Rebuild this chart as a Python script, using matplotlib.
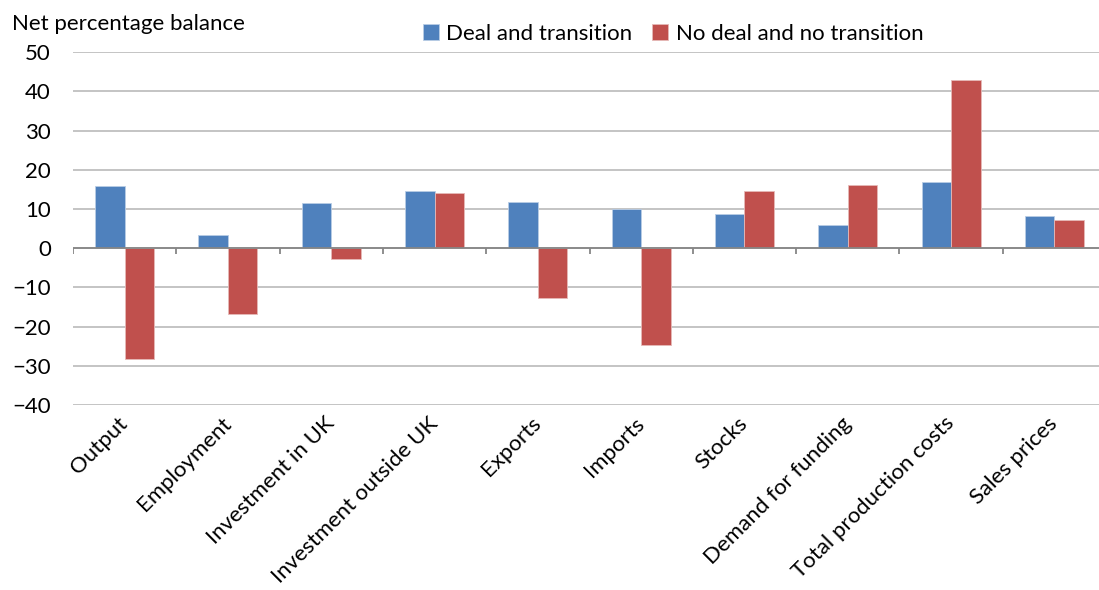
import numpy as np
import matplotlib.pyplot as plt

categories = ["Output", "Employment", "Investment in UK", "Investment outside UK",
              "Exports", "Imports", "Stocks", "Demand for funding",
              "Total production costs", "Sales prices"]
deal = [15.8, 3.4, 11.6, 14.5, 11.7, 10.0, 8.8, 6.0, 16.8, 8.3]
no_deal = [-28.3, -16.8, -2.7, 14.2, -12.6, -24.8, 14.6, 16.1, 42.9, 7.1]

yticks = np.arange(-40, 51, 10)

plt.rcParams['font.family'] = ['Lato', 'DejaVu Sans']
fs = 16

fig = plt.figure(figsize=(10.99, 5.9), dpi=100)
ax = fig.add_axes([0.0664, 0.3136, 0.940, 0.5978])

x = np.arange(len(categories))
w = 0.285
ax.bar(x - w / 2, deal, w, color='#4F81BD', edgecolor='#B9CDE5', linewidth=0.6,
       label='Deal and transition', zorder=3)
ax.bar(x + w / 2, no_deal, w, color='#C0504D', edgecolor='#E6B9B8', linewidth=0.6,
       label='No deal and no transition', zorder=3)

ax.set_xlim(-0.5, len(categories) - 0.5)
ax.set_ylim(-40, 50)
ax.set_yticks(yticks)
ax.grid(axis='y', color='#BFBFBF', linewidth=1.3, zorder=0)
ax.set_axisbelow(True)

# zero axis line with category boundary ticks
ax.axhline(0, color='#868686', linewidth=1.3, zorder=4)
ax.vlines(np.arange(len(categories) + 1) - 0.5, -1.6, 0, color='#868686',
          linewidth=1.3, zorder=4)

for s in ax.spines.values():
    s.set_visible(False)

ax.tick_params(axis='y', length=0, pad=16, labelsize=fs)
ax.set_xticks(x)
ax.set_xticklabels(categories, rotation=45, ha='right', va='center',
                   rotation_mode='anchor', fontsize=fs)
ax.tick_params(axis='x', length=0, pad=11)

fig.text(0.011, 0.960, "Net percentage balance", fontsize=fs, va='center', ha='left')

ax.legend(loc='center', bbox_to_anchor=(0.581, 1.052), ncol=2, frameon=False,
          fontsize=fs, handlelength=0.7, handleheight=0.7, handletextpad=0.35,
          columnspacing=0.9)

fig.savefig("out.png", dpi=100)
